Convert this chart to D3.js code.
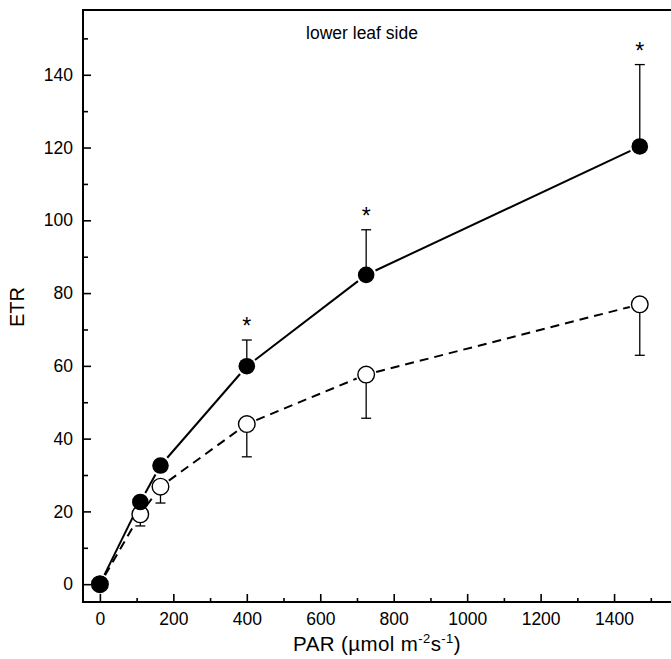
<!DOCTYPE html>
<html lang="en">
<head>
<meta charset="utf-8" />
<title>ETR lower leaf side</title>
<script src="https://d3js.org/d3.v7.min.js"></script>
<style>
  body { margin: 0; background: #fff; }
  svg text { font-family: "Liberation Sans", Arial, sans-serif; fill: #000; }
</style>
</head>
<body>
<svg width="671" height="659"></svg>
<script>
// data
var par = [0, 110, 165, 400, 725, 1470];
var etrFilled = [0, 22.6, 32.6, 59.9, 85.0, 120.3];
var errFilled = [0, 0, 1.5, 7.2, 12.4, 22.5];     // upward bars
var etrOpen = [0, 19.2, 26.8, 44.0, 57.6, 76.9];
var errOpen = [0, 3.2, 4.5, 9.0, 12.0, 14.0];      // downward bars
var signif = [false, false, false, true, true, true];

var xTicks = [0, 200, 400, 600, 800, 1000, 1200, 1400];
var xMinor = [100, 300, 500, 700, 900, 1100, 1300, 1500];
var yTicks = [0, 20, 40, 60, 80, 100, 120, 140];
var yMinor = [10, 30, 50, 70, 90, 110, 130, 150];

var svg = d3.select("svg");

var mLeft = 83, mRight = 671, mTop = 10, mBottom = 602;

var x = d3.scaleLinear().domain([-46, 1555]).range([mLeft, mRight]);
var y = d3.scaleLinear().domain([-4.9, 157.8]).range([mBottom, mTop]);

// frame top
svg.append("line").attr("x1", mLeft).attr("x2", mRight + 2).attr("y1", mTop).attr("y2", mTop)
    .attr("stroke", "#000").attr("stroke-width", 2);

// axes with inward ticks
var xAxis = svg.append("g").attr("transform", "translate(0," + mBottom + ")")
    .call(d3.axisBottom(x).tickValues(xTicks).tickFormat(d3.format("d"))
        .tickSize(-8).tickPadding(11).tickSizeOuter(0));
svg.append("g").attr("transform", "translate(0," + mBottom + ")")
    .call(d3.axisBottom(x).tickValues(xMinor).tickSize(-4).tickFormat("").tickSizeOuter(0))
    .select(".domain").remove();

var yAxis = svg.append("g").attr("transform", "translate(" + mLeft + ",0)")
    .call(d3.axisLeft(y).tickValues(yTicks).tickSize(-8).tickPadding(10).tickSizeOuter(0));
svg.append("g").attr("transform", "translate(" + mLeft + ",0)")
    .call(d3.axisLeft(y).tickValues(yMinor).tickSize(-5).tickFormat("").tickSizeOuter(0))
    .select(".domain").remove();

svg.selectAll(".domain").attr("stroke-width", 2);
svg.selectAll(".tick line").attr("stroke-width", 1.6);
xAxis.selectAll("text").style("font-size", "17.5px");
yAxis.selectAll("text").style("font-size", "17.5px");

// make sure the domains reach the frame corners
xAxis.select(".domain").attr("d", "M" + (mLeft - 1) + ",0H" + (mRight + 2));
yAxis.select(".domain").attr("d", "M0," + (mTop - 1) + "V" + (mBottom + 1));

// labels
svg.append("text").attr("x", 377).attr("y", 651).attr("text-anchor", "middle")
    .style("font-size", "20.5px").style("letter-spacing", "0.4px")
    .html('PAR (µmol m<tspan dy="-8" style="font-size:13px">-2</tspan><tspan dy="8">s</tspan><tspan dy="-8" style="font-size:13px">-1</tspan><tspan dy="8">)</tspan>');

svg.append("text").attr("transform", "translate(24,307) rotate(-90)").attr("text-anchor", "middle")
    .style("font-size", "20px").text("ETR");

svg.append("text").attr("x", 362).attr("y", 39).attr("text-anchor", "middle")
    .style("font-size", "17.5px").text("lower leaf side");

var r = 8.3;

// line segments trimmed so they stop short of the symbols
function segments(vals) {
    var segs = [];
    for (var i = 1; i < par.length; i++) {
        var x1 = x(par[i - 1]), y1 = y(vals[i - 1]), x2 = x(par[i]), y2 = y(vals[i]);
        var len = Math.hypot(x2 - x1, y2 - y1), g = r + 2;
        var ux = (x2 - x1) / len, uy = (y2 - y1) / len;
        segs.push([x1 + ux * g, y1 + uy * g, x2 - ux * g, y2 - uy * g]);
    }
    return segs;
}

function drawSeries(vals, dash) {
    svg.append("g").selectAll("line").data(segments(vals)).enter().append("line")
        .attr("x1", function (d) { return d[0]; })
        .attr("y1", function (d) { return d[1]; })
        .attr("x2", function (d) { return d[2]; })
        .attr("y2", function (d) { return d[3]; })
        .attr("stroke", "#000").attr("stroke-width", 2)
        .attr("stroke-dasharray", dash);
}

function drawErr(vals, errs, dir) {
    var g = svg.append("g");
    par.forEach(function (p, i) {
        if (!errs[i]) return;
        var cx = x(p), y0 = y(vals[i]), y1 = y(vals[i] + dir * errs[i]);
        g.append("line").attr("x1", cx).attr("x2", cx).attr("y1", y0).attr("y2", y1)
            .attr("stroke", "#000").attr("stroke-width", 1.3);
        g.append("line").attr("x1", cx - 5).attr("x2", cx + 5).attr("y1", y1).attr("y2", y1)
            .attr("stroke", "#000").attr("stroke-width", 1.3);
    });
}

drawSeries(etrOpen, "9,6");
drawSeries(etrFilled, null);
drawErr(etrOpen, errOpen, -1);
drawErr(etrFilled, errFilled, 1);

svg.append("g").selectAll("circle").data(par).enter().append("circle")
    .attr("cx", function (d) { return x(d); })
    .attr("cy", function (d, i) { return y(etrOpen[i]); })
    .attr("r", r).attr("fill", "#fff").attr("stroke", "#000").attr("stroke-width", 1.4);

svg.append("g").selectAll("circle").data(par).enter().append("circle")
    .attr("cx", function (d) { return x(d); })
    .attr("cy", function (d, i) { return y(etrFilled[i]); })
    .attr("r", r).attr("fill", "#000");

// significance stars
svg.append("g").selectAll("text").data(par.filter(function (d, i) { return signif[i]; }))
    .enter().append("text")
    .attr("x", function (d) { return x(d); })
    .attr("y", function (d) { var i = par.indexOf(d); return y(etrFilled[i] + errFilled[i]) - 6; })
    .attr("text-anchor", "middle").style("font-size", "23px").text("*");
</script>
</body>
</html>
